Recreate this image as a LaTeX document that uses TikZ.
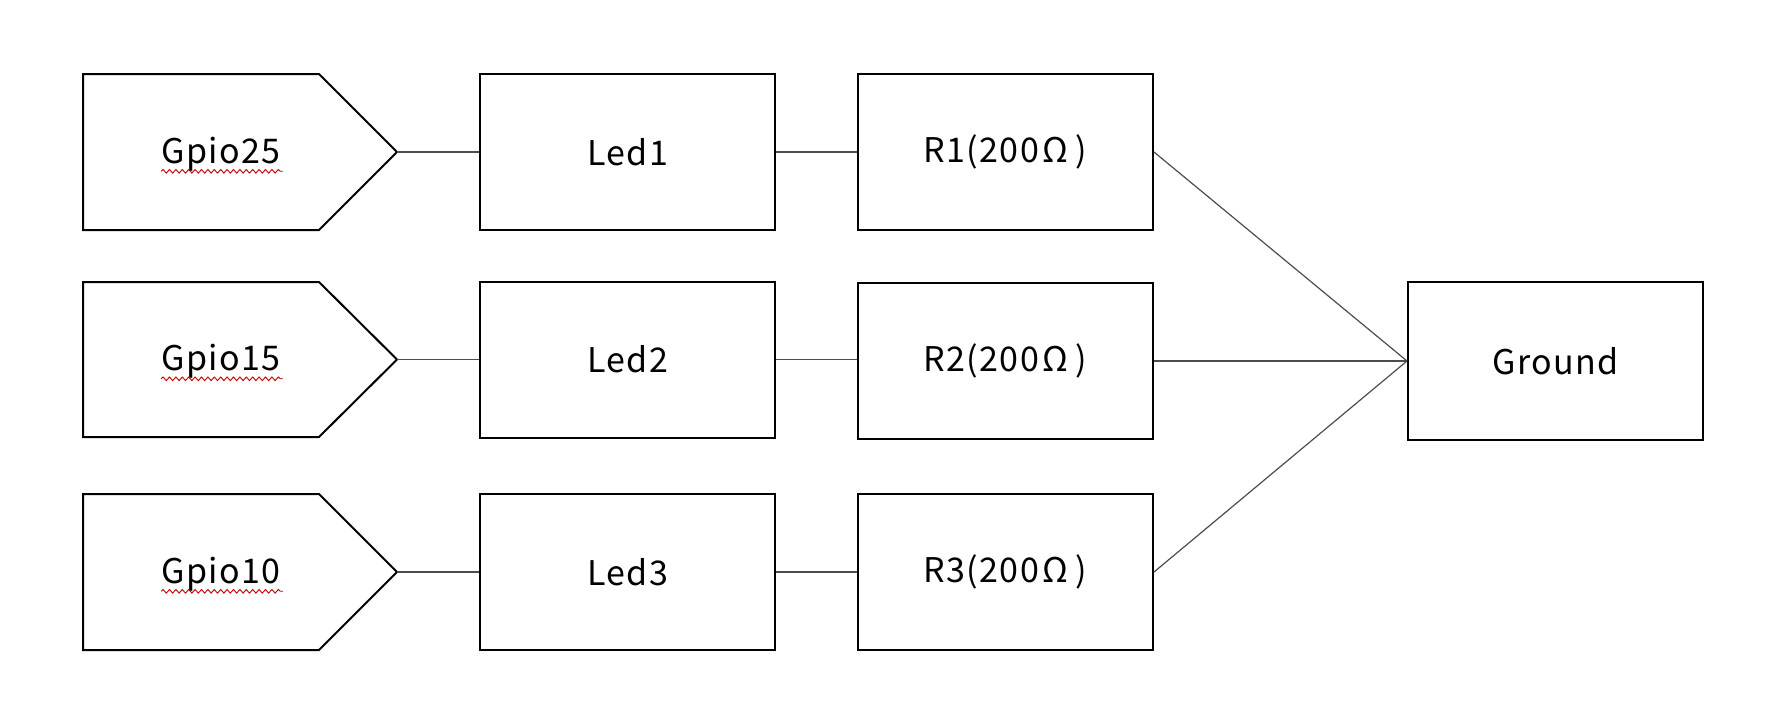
\documentclass[tikz,border=0pt]{standalone}
\usepackage{fontspec}
\setmainfont[LetterSpace=4]{Noto Sans CJK JP}
\usetikzlibrary{decorations.pathmorphing,calc}
\begin{document}
\begin{tikzpicture}[x=0.5pt,y=-0.5pt,
  box/.style={draw=black, line width=1pt, minimum width=147.5pt, minimum height=78pt, inner sep=0pt,
    font=\fontsize{17}{20}\selectfont},
  lbl/.style={inner sep=0pt, font=\fontsize{17}{20}\selectfont},
  pent/.style={draw=black, line width=1pt, line join=miter},
  wire/.style={draw=black!70, line width=0.6pt},
  squig/.style={draw=red!75!black, line width=0.45pt, decorate,
    decoration={snake, amplitude=0.9pt, segment length=3.2pt}}]
\useasboundingbox (0,0) rectangle (1784,713);
% Gpio pentagons
\foreach \n/\t/\b/\lab in {1/74/230/Gpio25, 2/282/437/Gpio15, 3/494/650/Gpio10}{
  \draw[pent] (83,\t) -- (319,\t) -- (397,{(\t+\b)/2}) -- (319,\b) -- (83,\b) -- cycle;
  \coordinate (g\n) at (397,{(\t+\b)/2});
  \node[lbl] (gt\n) at (221,{(\t+\b)/2+2}) {\lab};
  \draw[squig] ($(gt\n.base west)+(0,8)$) -- ($(gt\n.base east)+(2,8)$);
}
% Leds
\node[box] (led1) at (627.5,152) {Led1};
\node[box] (led2) at (627.5,359.5) {Led2};
\node[box] (led3) at (627.5,572) {Led3};
% Resistors
\node[box] (r1) at (1005.5,152) {R1(200\kern1.5ptΩ\kern4pt)};
\node[box] (r2) at (1005.5,361) {R2(200\kern1.5ptΩ\kern4pt)};
\node[box] (r3) at (1005.5,572) {R3(200\kern1.5ptΩ\kern4pt)};
% Ground
\node[box, minimum height=79pt] (gnd) at (1555.5,361) {Ground};
% wires
\draw[wire] (g1) -- (g1 -| led1.west);
\draw[wire] (g2) -- (g2 -| led2.west);
\draw[wire] (g3) -- (g3 -| led3.west);
\draw[wire] (led1.east) -- (r1.west);
\draw[wire] (led2.east) -- (led2.east -| r2.west);
\draw[wire] (led3.east) -- (r3.west);
\draw[wire] (r1.east) -- (gnd.west);
\draw[wire] (r2.east) -- (gnd.west);
\draw[wire] (r3.east) -- (gnd.west);
\end{tikzpicture}
\end{document}
